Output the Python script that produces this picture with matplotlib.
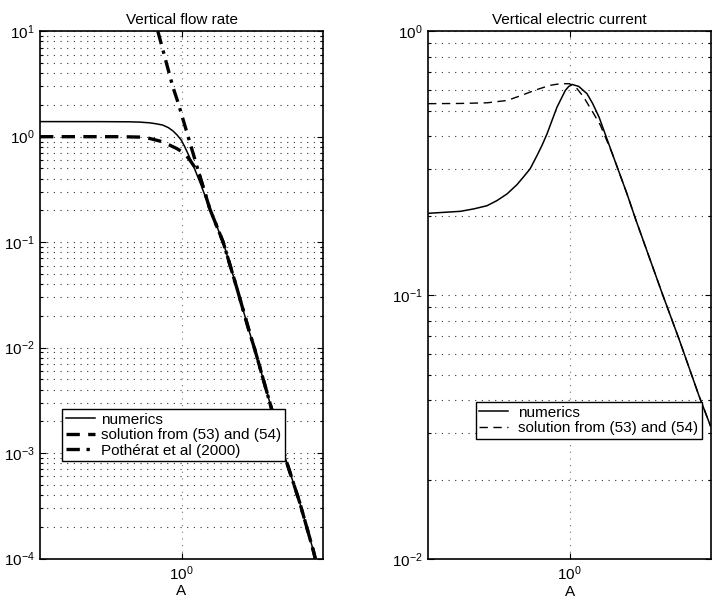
import matplotlib.pyplot as plt
from matplotlib.ticker import LogLocator, NullLocator, NullFormatter

plt.rcParams['font.family'] = ['Liberation Sans', 'DejaVu Sans']
plt.rcParams['font.size'] = 11

# ---- left panel: vertical flow rate ----
flow_num_A = [0.2, 0.393, 0.553, 0.62, 0.695, 0.75, 0.808, 0.86, 0.906, 0.95,
              0.997, 1.035, 1.074, 1.117, 1.163, 1.251, 1.38, 1.606, 1.87,
              2.176, 2.302, 3.30, 3.842, 4.467, 4.58]
flow_num_Q = [1.39, 1.389, 1.384, 1.375, 1.354, 1.325, 1.288, 1.22, 1.137,
              1.04, 0.929, 0.81, 0.695, 0.59, 0.49, 0.345, 0.2065, 0.1, 0.0376,
              0.0136, 0.0096, 0.00083, 0.000337, 0.000121, 0.0001]

flow_sol_A = [0.2, 0.5, 0.64, 0.695, 0.78, 0.872, 0.95, 1.035, 1.1, 1.159,
              1.227, 1.38, 1.606, 1.87, 2.176, 2.302, 3.30, 3.842, 4.467, 4.58]
flow_sol_Q = [1.0, 1.0, 0.99, 0.963, 0.91, 0.833, 0.77, 0.695, 0.6, 0.519,
              0.433, 0.2065, 0.1, 0.0376, 0.0136, 0.0096, 0.00083, 0.000337,
              0.000121, 0.0001]

flow_poth_A = [0.764, 0.906, 0.959, 1.227, 1.38, 1.606, 1.87, 2.176, 2.302,
               3.30, 3.842, 4.467, 4.58]
flow_poth_Q = [10.0, 2.97, 2.14, 0.433, 0.2065, 0.1, 0.0376, 0.0136, 0.0096,
               0.00083, 0.000337, 0.000121, 0.0001]

# ---- right panel: vertical electric current ----
cur_num_A = [0.2, 0.289, 0.336, 0.391, 0.438, 0.491, 0.55, 0.594, 0.639,
             0.691, 0.731, 0.774, 0.819, 0.867, 0.953, 0.991, 1.029, 1.111,
             1.22, 1.30, 1.399, 1.627, 1.923, 2.124, 2.874, 3.476, 4.36, 4.97]
cur_num_I = [0.204, 0.2076, 0.212, 0.218, 0.228, 0.2416, 0.262, 0.281,
             0.301, 0.338, 0.369, 0.408, 0.4585, 0.515, 0.596, 0.617, 0.628,
             0.617, 0.579, 0.532, 0.472, 0.343, 0.2416, 0.193, 0.101, 0.068,
             0.0415, 0.0319]

cur_sol_A = [0.2, 0.289, 0.391, 0.491, 0.58, 0.67, 0.80, 0.90, 1.0, 1.08,
             1.175, 1.317, 1.42, 1.627, 1.923, 2.124, 2.874, 3.476, 4.36, 4.97]
cur_sol_I = [0.531, 0.532, 0.535, 0.546, 0.571, 0.596, 0.623, 0.632, 0.632,
             0.61, 0.562, 0.486, 0.44, 0.343, 0.2416, 0.193, 0.101, 0.068,
             0.0415, 0.0319]

x_range = (0.2, 5.0)
grid_dots = (0, (1, 5))


def style_axes(ax, ylim):
    ax.set_xscale('log')
    ax.set_yscale('log')
    ax.set_xlim(*x_range)
    ax.set_ylim(*ylim)
    ax.xaxis.set_minor_locator(NullLocator())
    ax.yaxis.set_minor_locator(LogLocator(base=10, subs=range(2, 10)))
    ax.yaxis.set_minor_formatter(NullFormatter())
    ax.tick_params(which='both', direction='in', top=True, right=True,
                   labelsize=11, width=0.8)
    ax.tick_params(which='major', length=4, pad=4)
    ax.tick_params(which='minor', length=2.5)
    ax.grid(True, which='major', axis='x', color='0.45', linestyle=grid_dots, lw=0.8)
    ax.grid(True, which='both', axis='y', color='0.2', linestyle=grid_dots, lw=0.8)
    for s in ax.spines.values():
        s.set_linewidth(1.2)
    ax.set_xlabel('A', labelpad=1)


fig = plt.figure(figsize=(7.17, 6.04), dpi=100)
ax1 = fig.add_axes([0.0558, 0.0753, 0.3947, 0.873])
ax2 = fig.add_axes([0.597, 0.0745, 0.3947, 0.874])

style_axes(ax1, (1e-4, 1e1))
ax1.plot(flow_num_A, flow_num_Q, 'k-', lw=1.1, label='numerics')
ax1.plot(flow_sol_A, flow_sol_Q, color='k', lw=2.4, linestyle=(0, (4, 2.5)),
         label='solution from (53) and (54)')
ax1.plot(flow_poth_A, flow_poth_Q, color='k', lw=2.4, linestyle=(0, (4, 2, 1, 2)),
         label='Pothérat et al (2000)')
ax1.set_title('Vertical flow rate', fontsize=11, pad=5)
ax1.legend(loc='lower left', bbox_to_anchor=(0.077, 0.184), fancybox=False,
           edgecolor='k', framealpha=1, borderpad=0.25, labelspacing=0.1,
           handlelength=1.9, handletextpad=0.4, borderaxespad=0, fontsize=11)

style_axes(ax2, (1e-2, 1e0))
ax2.plot(cur_num_A, cur_num_I, 'k-', lw=1.1, label='numerics')
ax2.plot(cur_sol_A, cur_sol_I, color='k', lw=1.0, linestyle=(0, (6, 4)),
         label='solution from (53) and (54)')
ax2.set_title('Vertical electric current', fontsize=11, pad=5)
ax2.legend(loc='lower left', bbox_to_anchor=(0.168, 0.227), fancybox=False,
           edgecolor='k', framealpha=1, borderpad=0.25, labelspacing=0.1,
           handlelength=1.9, handletextpad=0.6, borderaxespad=0, fontsize=11)

fig.savefig('out.png', dpi=100)
